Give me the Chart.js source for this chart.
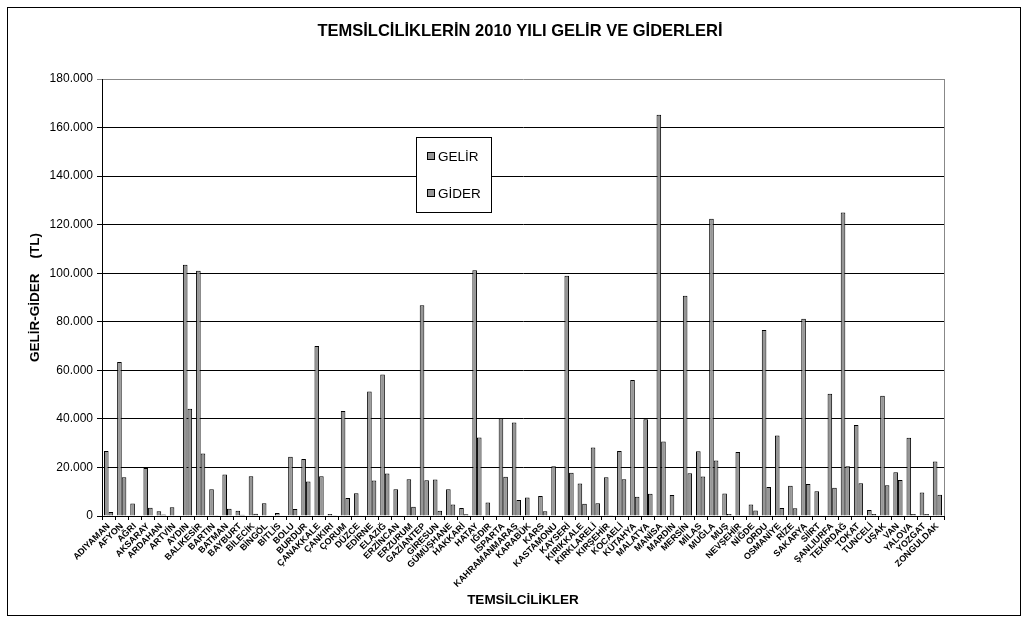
<!DOCTYPE html>
<html>
<head>
<meta charset="utf-8">
<script src="https://cdn.jsdelivr.net/npm/chart.js@4"></script>
<style>
  body { margin: 0; background: #fff; }
  canvas { display: block; }
</style>
</head>
<body>
<canvas id="gelirGiderChart" width="1028" height="624"></canvas>
<script>
// Temsilcilikler (categories)
const temsilcilikler = [
  "ADIYAMAN", "AFYON", "AĞRI", "AKSARAY", "ARDAHAN", "ARTVİN", "AYDIN",
  "BALIKESİR", "BARTIN", "BATMAN", "BAYBURT", "BİLECİK", "BİNGÖL", "BİTLİS",
  "BOLU", "BURDUR", "ÇANAKKALE", "ÇANKIRI", "ÇORUM", "DÜZCE", "EDİRNE",
  "ELAZIĞ", "ERZİNCAN", "ERZURUM", "GAZİANTEP", "GİRESUN", "GÜMÜŞHANE",
  "HAKKARİ", "HATAY", "IĞDIR", "ISPARTA", "KAHRAMANMARAŞ", "KARABÜK", "KARS",
  "KASTAMONU", "KAYSERİ", "KIRIKKALE", "KIRKLARELİ", "KIRŞEHİR", "KOCAELİ",
  "KÜTAHYA", "MALATYA", "MANİSA", "MARDİN", "MERSİN", "MİLAS", "MUĞLA", "MUŞ",
  "NEVŞEHİR", "NİĞDE", "ORDU", "OSMANİYE", "RİZE", "SAKARYA", "SİİRT",
  "ŞANLIURFA", "TEKİRDAĞ", "TOKAT", "TUNCELİ", "UŞAK", "VAN", "YALOVA",
  "YOZGAT", "ZONGULDAK",
];

// GELİR values (TL)
const gelir = [
  26800, 63400, 5200, 19800, 2000, 3600, 103500, 101000, 11000, 17100, 2200,
  16400, 5300, 1200, 24400, 23500, 70000, 800, 43200, 9400, 51300, 58300,
  11000, 15100, 86800, 15000, 11000, 3300, 101200, 5600, 40300, 38500, 7600,
  8200, 20500, 99000, 13400, 28200, 16000, 26800, 56000, 39800, 165300, 8700,
  90700, 26700, 122400, 9300, 26400, 4700, 76600, 33200, 12500, 81200, 10200,
  50400, 125000, 37500, 2500, 49500, 18000, 32200, 9700, 22500,
];

// GİDER values (TL)
const gider = [
  1600, 16000, 0, 3400, 600, 200, 44200, 25700, 300, 3000, 500, 900, 0, 0,
  2900, 14200, 16400, 300, 7400, 0, 14600, 17500, 200, 3800, 14700, 2200,
  4700, 700, 32300, 0, 16200, 6600, 0, 2000, 0, 17800, 5000, 5300, 300, 15100,
  7900, 9200, 30700, 0, 17600, 16300, 22900, 800, 0, 2300, 11900, 3300, 3200,
  13200, 0, 11600, 20500, 13500, 800, 12700, 14800, 800, 800, 8800,
];

const chartTitle = "TEMSİLCİLİKLERİN 2010 YILI GELİR VE GİDERLERİ";
const FONT = "Arial, 'Liberation Sans', sans-serif";

// Format 180000 as 180.000
function formatTL(value) {
  return String(value).replace(/\B(?=(\d{3})+(?!\d))/g, ".");
}

// Outer frame, title, right plot border and the boxed legend inside the plot
const frameAndLegend = {
  id: "frameAndLegend",
  afterDraw(chart) {
    const ctx = chart.ctx;
    const area = chart.chartArea;
    ctx.save();

    ctx.strokeStyle = "#888";
    ctx.lineWidth = 1;
    ctx.beginPath();
    ctx.moveTo(Math.round(area.right) + 0.5, area.top);
    ctx.lineTo(Math.round(area.right) + 0.5, area.bottom);
    ctx.stroke();

    ctx.strokeStyle = "#000";
    ctx.strokeRect(7.5, 7.5, 1013, 608);

    // title centred on the frame
    ctx.fillStyle = "#000";
    ctx.font = "bold 16.5px " + FONT;
    ctx.textAlign = "center";
    ctx.textBaseline = "middle";
    ctx.fillText(chartTitle, 520, 31);

    // legend box
    const bx = 416.5, by = 137.5;
    ctx.fillStyle = "#fff";
    ctx.fillRect(bx, by, 75, 75);
    ctx.strokeRect(bx, by, 75, 75);

    chart.data.datasets.forEach((ds, i) => {
      const y = 156 + i * 37;
      ctx.fillStyle = ds.backgroundColor;
      ctx.fillRect(427, y - 4, 8, 8);
      ctx.strokeStyle = "#000";
      ctx.strokeRect(427.5, y - 3.5, 7, 7);
      ctx.fillStyle = "#000";
      ctx.font = "13.5px " + FONT;
      ctx.textBaseline = "middle";
      ctx.textAlign = "left";
      ctx.fillText(ds.label, 438, y + 1);
    });
    ctx.restore();
  },
};

const ctx = document.getElementById("gelirGiderChart").getContext("2d");
const gelirGiderChart = new Chart(ctx, {
  type: "bar",
  data: {
    labels: temsilcilikler,
    datasets: [
      {
        label: "GELİR",
        data: gelir,
        backgroundColor: "#969696",
        borderColor: "#000",
        borderWidth: 1,
      },
      {
        label: "GİDER",
        data: gider,
        backgroundColor: "#969696",
        borderColor: "#000",
        borderWidth: 1,
      },
    ],
  },
  options: {
    responsive: false,
    animation: false,
    layout: { padding: { top: 79, left: 0, right: 84, bottom: 0 } },
    categoryPercentage: 0.7,
    barPercentage: 1.0,
    plugins: {
      legend: { display: false },
      tooltip: { enabled: false },
      title: { display: false },
    },
    scales: {
      x: {
        afterFit: (scale) => {
          scale.height = 108;
        },
        grid: {
          display: true,
          drawOnChartArea: false,
          drawTicks: true,
          tickLength: 4,
          color: "#000",
        },
        border: { display: true, color: "#000" },
        ticks: {
          autoSkip: false,
          minRotation: 45,
          maxRotation: 45,
          padding: 1,
          color: "#000",
          font: { family: FONT, size: 9, weight: "bold" },
        },
        title: {
          display: true,
          text: "TEMSİLCİLİKLER",
          color: "#000",
          font: { family: FONT, size: 13.5, weight: "bold" },
          padding: { top: 0, bottom: 16 },
        },
      },
      y: {
        min: 0,
        max: 180000,
        afterFit: (scale) => {
          scale.width = 102;
        },
        grid: {
          color: (c) => (c.tick && c.tick.value === 180000 ? "#888" : "#000"),
          tickLength: 5,
        },
        border: { display: true, color: "#000" },
        ticks: {
          stepSize: 20000,
          padding: 4,
          color: "#000",
          font: { family: FONT, size: 12 },
          callback: (v) => formatTL(v),
        },
        title: {
          display: true,
          text: "GELİR-GİDER    (TL)",
          color: "#000",
          font: { family: FONT, size: 13.5, weight: "bold" },
          padding: { top: 27, bottom: 0 },
        },
      },
    },
  },
  plugins: [frameAndLegend],
});
</script>
</body>
</html>
